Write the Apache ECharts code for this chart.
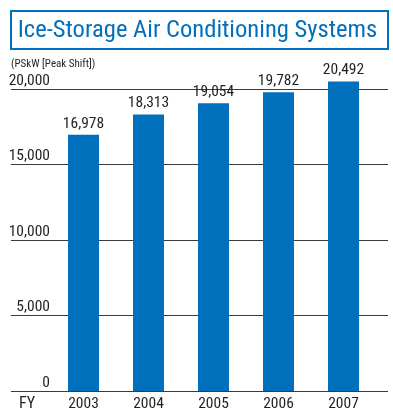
<!DOCTYPE html>
<html>
<head>
<meta charset="utf-8">
<script src="https://cdn.jsdelivr.net/npm/echarts@6/dist/echarts.min.js"></script>
<style>
  html, body { margin: 0; padding: 0; background: #fff; }
  #chart { width: 393px; height: 412px; }
</style>
</head>
<body>
<div id="chart"></div>
<script>
// Installed capacity of ice-storage air conditioning (PSkW, peak shift), by fiscal year
const years = ['2003', '2004', '2005', '2006', '2007'];
const capacity = [16978, 18313, 19054, 19782, 20492];
const yTicks = [0, 5000, 10000, 15000, 20000];

const FONT = '"Roboto Condensed", "Liberation Sans", Arial, sans-serif';
const TEXT = '#231f20';
const BLUE = '#0070bd';

const chart = echarts.init(document.getElementById('chart'), null, { renderer: 'canvas' });

const fmt = v => v.toLocaleString('en-US');

chart.setOption({
  animation: false,
  backgroundColor: '#fff',
  graphic: [
    {
      type: 'rect',
      shape: { x: 11, y: 11, width: 377, height: 38 },
      style: { fill: '#fff', stroke: BLUE, lineWidth: 2 }
    },
    {
      type: 'text',
      x: 197.5, y: 31,
      style: {
        text: 'Ice-Storage Air Conditioning Systems',
        fill: BLUE, font: '24.6px ' + FONT,
        align: 'center', verticalAlign: 'middle'
      }
    },
    {
      type: 'text',
      x: 11, y: 64,
      style: {
        text: '(PSkW [Peak Shift])',
        fill: TEXT, font: '11px ' + FONT,
        align: 'left', verticalAlign: 'middle'
      }
    },
    {
      type: 'text',
      x: 19, y: 404,
      style: {
        text: 'FY',
        fill: TEXT, font: '16px ' + FONT,
        align: 'left', verticalAlign: 'middle'
      }
    }
  ],
  grid: [
    { left: 51, right: 17, top: 89, bottom: 21, containLabel: false },
    { left: 11, right: 5, top: 89, bottom: 21, containLabel: false }
  ],
  xAxis: [
    {
      type: 'category', gridIndex: 0, data: years,
      axisLine: { show: false }, axisTick: { show: false },
      axisLabel: { color: TEXT, fontFamily: FONT, fontSize: 15.5, margin: 5 }
    },
    {
      type: 'category', gridIndex: 1, data: years, show: false
    }
  ],
  yAxis: [
    {
      type: 'value', gridIndex: 0, min: 0, max: 20000, interval: 5000,
      axisLine: { show: false }, axisTick: { show: false },
      splitLine: { show: false },
      axisLabel: {
        color: TEXT, fontFamily: FONT, fontSize: 15.5, margin: 1,
        align: 'right', verticalAlign: 'bottom', padding: [0, 0, 0, 0],
        formatter: v => yTicks.includes(v) ? fmt(v) : ''
      }
    },
    {
      type: 'value', gridIndex: 1, min: 0, max: 20000, interval: 5000,
      axisLine: { show: false }, axisTick: { show: false }, axisLabel: { show: false },
      splitLine: { show: true, lineStyle: { color: '#3a3a3a', width: 1.2 } }
    }
  ],
  series: [
    {
      type: 'bar', xAxisIndex: 0, yAxisIndex: 0,
      data: capacity, barWidth: 31, z: 5, clip: false,
      itemStyle: { color: BLUE },
      label: {
        show: true, position: 'top', distance: 3,
        color: TEXT, fontFamily: FONT, fontSize: 15.5,
        formatter: p => fmt(p.value)
      }
    },
    {
      type: 'bar', xAxisIndex: 1, yAxisIndex: 1, data: [], silent: true
    }
  ]
});
</script>
</body>
</html>
